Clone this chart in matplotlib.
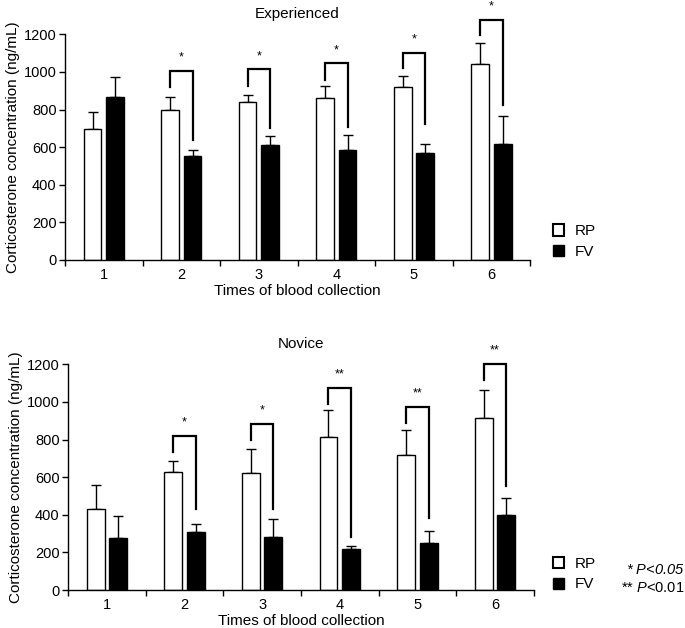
import numpy as np
import matplotlib
matplotlib.use("Agg")
import matplotlib.pyplot as plt
from matplotlib.patches import Patch

plt.rcParams['font.family'] = ['Liberation Sans', 'DejaVu Sans']
plt.rcParams['mathtext.fontset'] = 'custom'
plt.rcParams['mathtext.it'] = 'Liberation Sans:italic'
plt.rcParams['mathtext.rm'] = 'Liberation Sans'

times = [1, 2, 3, 4, 5, 6]

# Experienced
exp_rp = [695, 796, 839, 863, 920, 1044]
exp_rp_err = [94, 73, 40, 64, 59, 108]
exp_fv = [865, 555, 610, 585, 571, 619]
exp_fv_err = [107, 30, 50, 78, 46, 147]
exp_sig = ['', '*', '*', '*', '*', '*']
exp_br_left = [0, 918, 926, 957, 1020, 1197]
exp_br_top = [0, 1005, 1014, 1046, 1103, 1277]
exp_br_right = [0, 638, 704, 709, 723, 824]

# Novice
nov_rp = [432, 627, 622, 815, 718, 915]
nov_rp_err = [126, 61, 126, 142, 135, 148]
nov_fv = [275, 310, 284, 220, 250, 397]
nov_fv_err = [117, 43, 92, 16, 64, 94]
nov_sig = ['', '*', '*', '**', '**', '**']
nov_br_left = [0, 736, 798, 989, 886, 1117]
nov_br_top = [0, 821, 883, 1076, 973, 1203]
nov_br_right = [0, 429, 431, 284, 381, 555]

W = 0.23
OFF = 0.145


def panel(ax, title, rp, rp_err, fv, fv_err, sig, bl, bt, br):
    x = np.array(times)
    ax.bar(x - OFF, rp, W, color='white', edgecolor='black', linewidth=1.0, zorder=2)
    ax.bar(x + OFF, fv, W, color='black', edgecolor='black', linewidth=1.0, zorder=2)
    ax.errorbar(x - OFF, rp, yerr=[np.zeros(6), rp_err], fmt='none', ecolor='black',
                elinewidth=1.0, capsize=3.6, capthick=1.0, zorder=1)
    ax.errorbar(x + OFF, fv, yerr=[np.zeros(6), fv_err], fmt='none', ecolor='black',
                elinewidth=1.0, capsize=3.6, capthick=1.0, zorder=1)
    for i in range(6):
        if sig[i] == '':
            continue
        xl = x[i] - OFF
        xr = x[i] + OFF
        ax.plot([xl, xl, xr, xr], [bl[i], bt[i], bt[i], br[i]], color='black',
                lw=1.6, clip_on=False, solid_joinstyle='miter')
        ax.text(x[i], bt[i] + 38, sig[i], ha='center', va='bottom', fontsize=9)

    ax.set_xlim(0.5, 6.5)
    ax.set_ylim(0, 1200)
    ax.set_yticks(range(0, 1201, 200))
    ax.set_xticks(np.arange(0.5, 6.6, 1.0))
    ax.set_xticklabels([])
    ax.set_xticks(times, minor=True)
    ax.set_xticklabels([str(t) for t in times], minor=True)
    ax.tick_params(axis='x', which='minor', length=0, labelsize=10.5, pad=6)
    ax.tick_params(axis='x', which='major', length=4, direction='out', width=1.0)
    ax.tick_params(axis='y', length=4, direction='out', width=1.0, labelsize=10.5, pad=2)
    ax.spines['top'].set_visible(False)
    ax.spines['right'].set_visible(False)
    ax.spines['left'].set_linewidth(1.0)
    ax.spines['bottom'].set_linewidth(1.0)
    ax.set_title(title, fontsize=11, pad=12)
    ax.set_xlabel('Times of blood collection', fontsize=11, labelpad=1)
    ax.set_ylabel('Corticosterone concentration (ng/mL)', fontsize=11, labelpad=3)


fig = plt.figure(figsize=(6.85, 6.28), dpi=100)
ax1 = fig.add_axes([0.0949, 0.586, 0.679, 0.3594])
ax2 = fig.add_axes([0.0993, 0.0605, 0.680, 0.3594])

panel(ax1, 'Experienced', exp_rp, exp_rp_err, exp_fv, exp_fv_err, exp_sig,
      exp_br_left, exp_br_top, exp_br_right)
panel(ax2, 'Novice', nov_rp, nov_rp_err, nov_fv, nov_fv_err, nov_sig,
      nov_br_left, nov_br_top, nov_br_right)

handles = [Patch(facecolor='white', edgecolor='black', linewidth=1.5, label='RP'),
           Patch(facecolor='black', edgecolor='black', label='FV')]
for y in [0.615, 0.086]:
    fig.legend(handles=handles, loc='center left', bbox_to_anchor=(0.787, y),
               frameon=False, fontsize=11, handlelength=0.75, handleheight=0.75,
               handletextpad=0.7, labelspacing=0.45)

fig.text(0.999, 0.092, r'* $\mathit{P}$<0.05', ha='right', va='center', fontsize=10.5,
         style='italic')
fig.text(0.999, 0.063, r'** $\mathit{P}$<0.01', ha='right', va='center', fontsize=10.5)

fig.savefig('out.png', dpi=100)
